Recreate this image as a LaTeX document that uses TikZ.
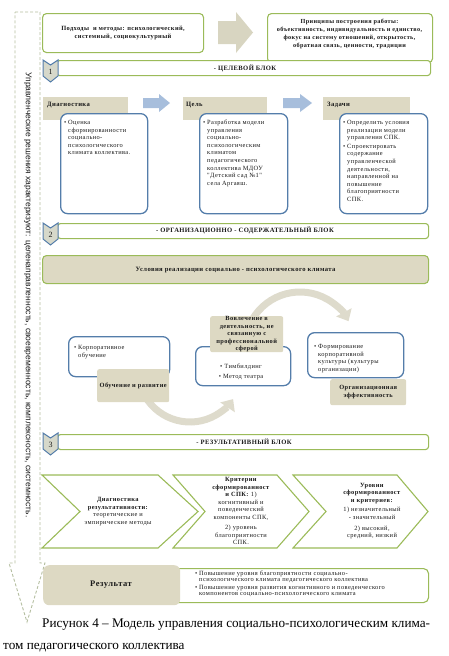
\documentclass[tikz,border=0pt]{standalone}
\usepackage{fontspec}
\setmainfont{Liberation Serif}
\setsansfont{Liberation Sans}
\newfontfamily\dg{Liberation Serif}[LetterSpace=6]
\usetikzlibrary{arrows.meta}
\definecolor{grn}{RGB}{155,187,89}
\definecolor{beige}{RGB}{221,217,195}
\definecolor{blu}{RGB}{84,125,170}
\definecolor{lblu}{RGB}{167,190,220}
\definecolor{bigarr}{RGB}{216,213,193}
\definecolor{dsh}{RGB}{180,190,160}
\definecolor{badgef}{RGB}{214,216,202}
\definecolor{cycc}{RGB}{222,219,204}
\definecolor{ink}{RGB}{25,25,25}
\newcommand\bl[1]{\begin{tabular}{@{}l@{\hspace{1.8pt}}l@{}}#1\end{tabular}}
\newcommand\mybox[6]{\node[#2, anchor=north west, minimum width={#5-#3}, minimum height={#6-#4}] (#1) at (#3,#4) {};}
\tikzset{
  gbox/.style={draw=grn, line width=1.1pt, rounded corners=4pt, fill=white, inner sep=0},
  bbox/.style={draw=blu, line width=1.3pt, rounded corners=7pt, fill=white, inner sep=0},
  tabbox/.style={fill=beige, inner sep=0},
  rtab/.style={fill=beige, inner sep=0, rounded corners=2pt},
  barbox/.style={draw=grn, line width=1.1pt, rounded corners=3pt, fill=white, inner sep=0},
  badge/.style={draw=blu, line width=1pt, fill=badgef},
  chev/.style={draw=grn, line width=1.1pt, fill=white, line join=miter},
  dasharrow/.style={draw=dsh, line width=0.9pt, dash pattern=on 3pt off 2pt},
  blockarr/.style={fill=bigarr},
  bluearr/.style={fill=lblu},
  cyc/.style={draw=cycc, line width=7pt, -{Triangle[width=17pt,length=10pt]}},
  sm/.style={font=\dg\fontsize{6.4}{7.6}\selectfont, inner sep=0, text=ink},
  smb/.style={font=\dg\bfseries\fontsize{6.4}{7.5}\selectfont, inner sep=0, text=ink, align=center},
  hdr/.style={font=\dg\bfseries\fontsize{6.6}{7.5}\selectfont, inner sep=0, text=ink},
  num/.style={font=\fontsize{8}{9}\selectfont, inner sep=0, text=ink},
}
\begin{document}
\begin{tikzpicture}[x=1pt,y=-1pt]
\useasboundingbox (0,0) rectangle (448,656);

% left dashed arrow with rotated text
\draw[dasharrow] (15,12) -- (40,12) -- (40,563) -- (45,563) -- (27,622) -- (9,563) -- (15,563) -- cycle;
\node[rotate=-90, font=\sffamily\fontsize{8.5}{9}\selectfont, inner sep=0, text=ink] (side) at (28,295)
  {Управленческие решения характеризуют: целенаправленность, своевременность, комплексность, системность.};

% top row
\mybox{topA}{gbox}{42}{13}{203}{52}
\node[smb] (topAt) at (topA.center) {Подходы \ и методы: психологический,\\системный, социокультурный};
\fill[blockarr] (218,21) -- (236,21) -- (236,12) -- (253,32.5) -- (236,53) -- (236,44) -- (218,44) -- cycle;
\mybox{topB}{gbox}{267}{13}{432}{62}
\node[smb, font=\dg\bfseries\fontsize{6.2}{8}\selectfont] (topBt) at (349.5,34) {Принципы построения работы:\\объективность, индивидуальность и единство,\\фокус на систему отношений, открытость,\\обратная связь, ценности, традиции};

% block 1 bar
\mybox{bar1}{barbox}{56}{60}{430}{75}
\node[hdr] (bar1t) at (245,68) {- ЦЕЛЕВОЙ БЛОК};
\path[badge] (43,60) -- (50.5,65) -- (58,60) -- (58,76) -- (50.5,82) -- (43,76) -- cycle;
\node[num] (n1) at (50.5,71.5) {1};

% row 1
\mybox{tab1}{tabbox}{43}{97}{128}{120}
\node[hdr, anchor=west] (tab1t) at (47,105) {Диагностика};
\mybox{tab2}{tabbox}{183}{97}{267}{120}
\node[hdr, anchor=west] (tab2t) at (186,105) {Цель};
\mybox{tab3}{tabbox}{323}{97}{410}{120}
\node[hdr, anchor=west] (tab3t) at (327,105) {Задачи};
\fill[bluearr] (143,98) -- (159,98) -- (159,94) -- (170,103) -- (159,112) -- (159,108) -- (143,108) -- cycle;
\fill[bluearr] (283,98) -- (300,98) -- (300,94) -- (312,103) -- (300,112) -- (300,108) -- (283,108) -- cycle;
\mybox{box1}{bbox}{60}{113}{147}{213}
\mybox{box2}{bbox}{199}{113}{287}{213}
\mybox{box3}{bbox}{339}{113}{427}{213}
\node[sm, anchor=north west] (box1t) at (64,119) {\bl{•&Оценка\\&сформированности\\&социально-\\&психологического\\&климата коллектива.}};
\node[sm, anchor=north west] (box2t) at (203,119) {\bl{•&Разработка модели\\&управления\\&социально-\\&психологическим\\&климатом\\&педагогического\\&коллектива МДОУ\\&"Детский сад №1"\\&села Аргаяш.}};
\node[sm, anchor=north west] (box3t) at (343,119) {\bl{•&Определить условия\\&реализации модели\\&управления СПК.\\[1pt]•&Спроектировать\\&содержание\\&управленческой\\&деятельности,\\&направленной на\\&повышение\\&благоприятности\\&СПК.}};

% block 2 bar
\mybox{bar2}{barbox}{57}{223}{428}{238}
\node[hdr] (bar2t) at (245,230.5) {- ОРГАНИЗАЦИОННО - СОДЕРЖАТЕЛЬНЫЙ БЛОК};
\path[badge] (43,223) -- (50.5,228) -- (58,223) -- (58,239) -- (50.5,245) -- (43,239) -- cycle;
\node[num] (n2) at (50.5,234.5) {2};

\node[draw=grn, line width=1.1pt, fill=beige, rounded corners=4pt, anchor=north west, minimum width=386, minimum height=28, inner sep=0] (cond) at (42,255) {};
\node[hdr] (condt) at (cond.center) {Условия реализации социально - психологического климата};

% cycle
\draw[cyc] (190,370) ++(150:52) arc[start angle=150, end angle=34, radius=52];
\draw[cyc] (300,347) ++(210:55) arc[start angle=210, end angle=332, radius=55];

\mybox{cb1}{bbox}{68}{336}{169}{376}
\node[sm, anchor=north west] (cb1t) at (74,344) {\bl{•&Корпоративное\\&обучение}};
\mybox{ct1}{rtab}{97}{369}{169}{402}
\node[smb] (ct1t) at (ct1.center) {Обучение и развитие};

\mybox{cb2}{bbox}{195}{346}{290}{385}
\node[sm, align=center] (cb2t) at (241,372) {• Тимбилдинг\\[2pt]• Метод театра};
\mybox{ct2}{rtab}{210}{316}{283}{352}
\node[smb] (ct2t) at (ct2.center) {Вовлечение в\\деятельность, не\\связанную с\\профессиональной\\сферой};

\mybox{cb3}{bbox}{307}{332}{403}{377}
\node[sm, anchor=north west] (cb3t) at (314,343) {\bl{•&Формирование\\&корпоративной\\&культуры (культуры\\&организации)}};
\mybox{ct3}{rtab}{330}{379}{406}{405}
\node[smb] (ct3t) at (ct3.center) {Организационная\\эффективность};

% block 3 bar
\mybox{bar3}{barbox}{57}{434}{428}{449}
\node[hdr] (bar3t) at (244,441.5) {- РЕЗУЛЬТАТИВНЫЙ БЛОК};
\path[badge] (43,433) -- (50.5,438) -- (58,433) -- (58,449) -- (50.5,455) -- (43,449) -- cycle;
\node[num] (n3) at (50.5,444.5) {3};

% chevrons
\path[chev] (42,475) -- (158,475) -- (198,511.5) -- (158,548) -- (42,548) -- (80,511.5) -- cycle;
\path[chev] (173,475) -- (277,475) -- (309,511.5) -- (277,548) -- (173,548) -- (205,511.5) -- cycle;
\path[chev] (293,475) -- (397,475) -- (428,511.5) -- (397,548) -- (293,548) -- (326,511.5) -- cycle;
\node[sm, align=center] (cv1t) at (118,511.5) {\textbf{Диагностика}\\\textbf{результативности:}\\теоретические и\\эмпирические методы};
\node[sm, align=center] (cv2t) at (241,511) {\textbf{Критерии}\\\textbf{сформированност}\\\textbf{и СПК:} 1)\\когнитивный и\\поведенческий\\компоненты СПК,\\[2.5pt]2) уровень\\благоприятности\\СПК.};
\node[sm, align=center] (cv3t) at (372,511) {\textbf{Уровни}\\\textbf{сформированност}\\\textbf{и критериев:}\\[2pt]1) незначительный\\- значительный\\[3pt]2) высокий,\\средний, низкий};

% result
\node[draw=grn, line width=1.1pt, fill=white, rounded corners=5pt, anchor=north west, minimum width=258, minimum height=34, inner sep=0] (resr) at (170,568) {};
\node[fill=beige, rounded corners=6pt, anchor=north west, minimum width=137, minimum height=40, inner sep=0] (resl) at (43,565) {};
\node[font=\dg\bfseries\fontsize{8.5}{10}\selectfont, inner sep=0, text=ink] (reslt) at (111,585) {Результат};
\node[sm, anchor=north west, font=\dg\fontsize{6.4}{6.3}\selectfont] (resrt) at (195,570.5) {\bl{•&Повышение уровня благоприятности социально-\\&психологического климата педагогического коллектива\\[1.5pt]•&Повышение уровня развития когнитивного и поведенческого\\&компонентов социально-психологического климата}};

% caption
\node[anchor=base west, inner sep=0, font=\fontsize{13.2}{15}\selectfont] (cap1) at (42,627) {Рисунок 4 – Модель управления социально-психологическим клима-};
\node[anchor=base west, inner sep=0, font=\fontsize{13.2}{15}\selectfont] (cap2) at (3,649) {том педагогического коллектива};
\end{tikzpicture}
\end{document}
